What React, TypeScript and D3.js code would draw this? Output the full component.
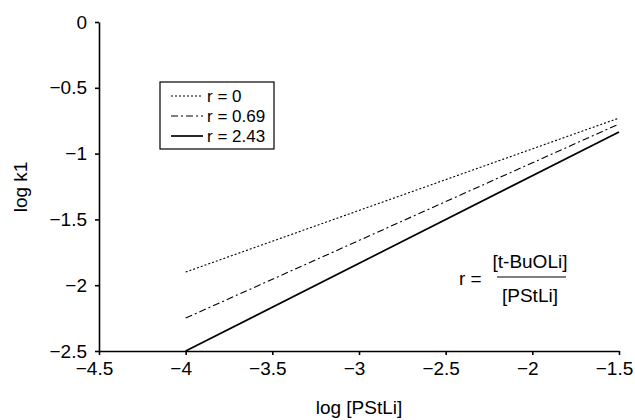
import * as React from 'react'
import {useEffect, useRef} from 'react'
import {select, scaleLinear, axisBottom, axisLeft, line} from 'd3'

// x: log [PStLi], y: log k1
const xTicks = [-4.5, -4, -3.5, -3, -2.5, -2, -1.5]
const yTicks = [0, -0.5, -1, -1.5, -2, -2.5]
const logPStLi = [-4, -1.5]
const r0 = [-1.9, -0.73]
const r069 = [-2.25, -0.775]
const r243 = [-2.5, -0.835]
const seriesNames = ['r = 0', 'r = 0.69', 'r = 2.43']
const seriesValues = [r0, r069, r243]
const dashes = ['2,2', '7,3,2,3', null]
const widths = [1.1, 1.1, 1.7]

const W = 635
const H = 420
const FONT = '"Liberation Sans", Arial, sans-serif'
const FS = 19

const fmt = (d: number) => (d < 0 ? '\u2212' + Math.abs(d) : String(d))

export default function App() {
  const ref = useRef<SVGSVGElement>(null)

  useEffect(() => {
    const svg = select(ref.current)
    svg.selectAll('*').remove()

    const x = scaleLinear().domain([-4.5, -1.5]).range([99, 619])
    const y = scaleLinear().domain([-2.5, 0]).range([351, 22])

    const xAxis = svg.append('g')
      .attr('transform', `translate(0,${y(-2.5)})`)
      .call(axisBottom(x).tickValues(xTicks).tickFormat(fmt).tickSize(4).tickSizeOuter(0).tickPadding(7))
    const yAxis = svg.append('g')
      .attr('transform', `translate(${x(-4.5)},0)`)
      .call(axisLeft(y).tickValues(yTicks).tickFormat(fmt).tickSize(4).tickSizeOuter(0).tickPadding(8))

    for (const a of [xAxis, yAxis]) {
      a.selectAll('path, line').attr('stroke', '#000').attr('stroke-width', 1.6)
      a.selectAll('text').attr('font-family', FONT).attr('font-size', FS).attr('fill', '#000')
    }
    xAxis.selectAll('text').attr('dx', -5)

    const ln = line<number>()
      .x((_, i) => x(logPStLi[i]))
      .y(d => y(d))

    seriesValues.forEach((vals, i) => {
      svg.append('path')
        .attr('d', ln(vals))
        .attr('fill', 'none')
        .attr('stroke', '#000')
        .attr('stroke-width', widths[i])
        .attr('stroke-dasharray', dashes[i])
    })

    // legend
    const lg = svg.append('g').attr('transform', 'translate(160,82)')
    lg.append('rect').attr('width', 114).attr('height', 67)
      .attr('fill', '#fff').attr('stroke', '#000').attr('stroke-width', 1.2)
    seriesNames.forEach((name, i) => {
      const yy = 14 + i * 20
      lg.append('line').attr('x1', 11).attr('x2', 43).attr('y1', yy).attr('y2', yy)
        .attr('stroke', '#000').attr('stroke-width', widths[i])
        .attr('stroke-dasharray', dashes[i])
      lg.append('text').attr('x', 47).attr('y', yy + 6)
        .attr('font-family', FONT).attr('font-size', 17).text(name)
    })

    // formula
    const f = svg.append('g').attr('font-family', FONT).attr('font-size', FS)
    f.append('text').attr('x', 459).attr('y', 285).text('r =')
    f.append('text').attr('x', 530).attr('y', 268).attr('text-anchor', 'middle').text('[t-BuOLi]')
    f.append('line').attr('x1', 497).attr('x2', 566).attr('y1', 277).attr('y2', 277)
      .attr('stroke', '#000').attr('stroke-width', 1)
    f.append('text').attr('x', 530).attr('y', 302).attr('text-anchor', 'middle').text('[PStLi]')

    // axis titles
    svg.append('text').attr('x', 359).attr('y', 414).attr('text-anchor', 'middle')
      .attr('font-family', FONT).attr('font-size', FS).text('log [PStLi]')
    svg.append('text').attr('transform', 'translate(27,187) rotate(-90)')
      .attr('text-anchor', 'middle')
      .attr('font-family', FONT).attr('font-size', FS).text('log k1')
  }, [])

  return (
    <svg ref={ref} width={W} height={H}
      style={{position: 'absolute', left: 0, top: 0, background: '#fff'}} />
  )
}
